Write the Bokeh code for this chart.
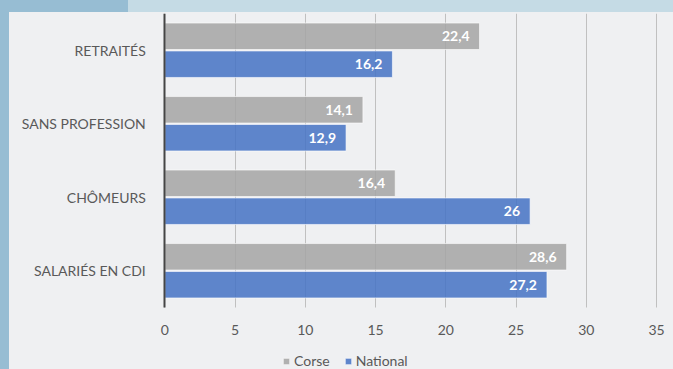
from bokeh.plotting import figure
from bokeh.models import (Range1d, FixedTicker, Legend, LegendItem, ColumnDataSource, BoxAnnotation)
from bokeh.core.properties import value
from bokeh.embed import file_html
from bokeh.resources import INLINE

categories = ["RETRAITÉS", "SANS PROFESSION", "CHÔMEURS", "SALARIÉS EN CDI"]
corse = [22.4, 14.1, 16.4, 28.6]
national = [16.2, 12.9, 26.0, 27.2]
corse_labels = ["22,4", "14,1", "16,4", "28,6"]
national_labels = ["16,2", "12,9", "26", "27,2"]
x_ticks = [0, 5, 10, 15, 20, 25, 30, 35]

FONT = "Lato"
BG = "#eff0f2"
DARK = "#97bdd3"
LIGHT = "#c5dbe5"
pos = [len(categories) - 1 - i for i in range(len(categories))]
OFF = 0.19
H = 0.36
Y_BOTTOM = -0.5            # bottom edge of the plotting area (data units)
Y_EXTRA = 62 / 73.5        # room below for axis labels and legend
X_LEFT_EXTRA = 155.3 / 14.05   # room at left for the category labels
X_END = 36.206

p = figure(width=673, height=369, output_backend="svg", toolbar_location=None,
           x_range=Range1d(-X_LEFT_EXTRA, X_END), y_range=Range1d(Y_BOTTOM - Y_EXTRA, 3.5),
           min_border_left=9, min_border_right=0, min_border_top=13, min_border_bottom=0)
p.background_fill_color = BG
p.border_fill_color = None
p.outline_line_color = None
p.styles = {
    "background": (f"linear-gradient({DARK}, {DARK}) 0 0 / 9px 100% no-repeat, "
                   f"linear-gradient({DARK}, {DARK}) 0 0 / 128px 12px no-repeat, "
                   f"linear-gradient({LIGHT}, {LIGHT}) 0 0 / 100% 12px no-repeat, {BG}")
}

src_c = ColumnDataSource(dict(y=[v + OFF for v in pos], x=corse, lab=corse_labels))
src_n = ColumnDataSource(dict(y=[v - OFF for v in pos], x=national, lab=national_labels))

rc = p.hbar(y="y", right="x", left=0, height=H, source=src_c, fill_color="#a5a5a5",
            fill_alpha=0.85, line_color="white", line_alpha=0.6, line_width=1)
rn = p.hbar(y="y", right="x", left=0, height=H, source=src_n, fill_color="#4472c4",
            fill_alpha=0.85, line_color="white", line_alpha=0.6, line_width=1)

for s in (src_c, src_n):
    p.text(x="x", y="y", text="lab", source=s, x_offset=-10, text_align="right",
           text_baseline="middle", text_color="white", text_font=value(FONT),
           text_font_size="14px", text_font_style="bold")

# hide grid below the plotting area
p.add_layout(BoxAnnotation(top=Y_BOTTOM, fill_color=BG, fill_alpha=1, line_color=None,
                           level="glyph"))

p.xgrid.ticker = FixedTicker(ticks=x_ticks)
p.xgrid.grid_line_color = "#c0c0c0"
p.xgrid.grid_line_width = 1
p.ygrid.grid_line_color = None

p.xaxis.ticker = FixedTicker(ticks=x_ticks)
p.xaxis.fixed_location = Y_BOTTOM
p.xaxis.axis_line_color = None
p.xaxis.major_tick_line_color = None
p.xaxis.minor_tick_line_color = None
p.xaxis.major_label_standoff = 11
p.xaxis.major_label_text_font = FONT
p.xaxis.major_label_text_font_size = "14px"
p.xaxis.major_label_text_color = "#595959"

p.yaxis.ticker = FixedTicker(ticks=pos)
p.yaxis.fixed_location = 0
p.yaxis.bounds = (Y_BOTTOM, 3.5)
p.yaxis.major_label_overrides = {pos[i]: categories[i] for i in range(len(categories))}
p.yaxis.axis_line_color = "#454545"
p.yaxis.axis_line_width = 2
p.yaxis.major_tick_line_color = None
p.yaxis.minor_tick_line_color = None
p.yaxis.major_label_standoff = 13
p.yaxis.major_label_text_font = FONT
p.yaxis.major_label_text_font_size = "14px"
p.yaxis.major_label_text_color = "#595959"

legend = Legend(items=[LegendItem(label="Corse", renderers=[rc]),
                       LegendItem(label="National", renderers=[rn])],
                orientation="horizontal", location=(273, 0),
                background_fill_alpha=0, border_line_color=None,
                glyph_width=8, glyph_height=8, label_text_font=FONT,
                label_text_font_size="14px", label_text_color="#595959",
                spacing=14, padding=0, margin=0, label_standoff=4, label_height=14)
p.add_layout(legend, "center")

open("out.html", "w").write(file_html(p, INLINE))
